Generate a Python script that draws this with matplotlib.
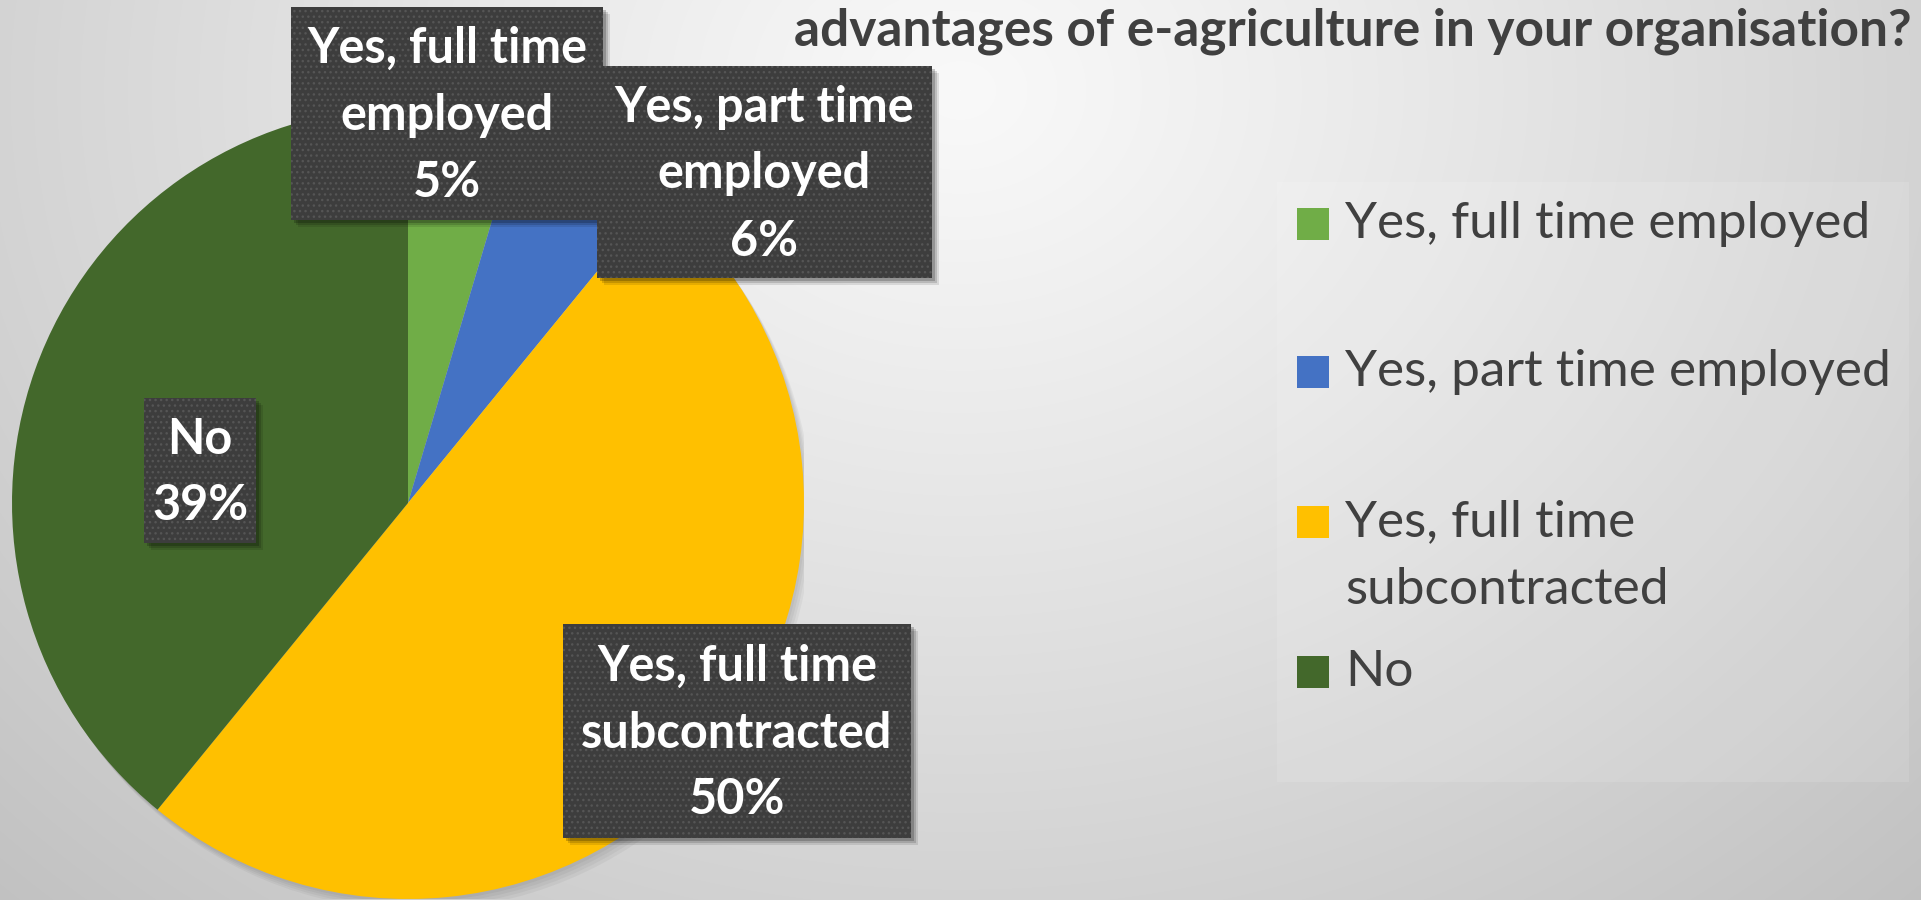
"""
Pie chart: staff for e-agriculture in the organisation
"""

import textwrap
import numpy as np
import matplotlib.pyplot as plt
from matplotlib.patches import Rectangle

# ── data ──────────────────────────────────────────────
categories = ["Yes, full time employed", "Yes, part time employed",
              "Yes, full time subcontracted", "No"]
shares = [4.6, 6.3, 50.0, 39.1]
colors = ["#70AD47", "#4472C4", "#FFC000", "#43682B"]
title = "advantages of e-agriculture in your organisation?"
legend_labels = ["Yes, full time employed", "Yes, part time employed",
                 "Yes, full time\nsubcontracted", "No"]

# ── layout (pixels, y from top) ──────────────────────
W, H = 1921, 900
PIE_CX, PIE_CY, PIE_R = 408, 503, 396
# data label boxes: (x0, y0, x1, y1)
LABEL_BOXES = [(291, 7, 603, 220), (597, 66, 932, 278),
               (563, 624, 911, 838), (144, 398, 256, 543)]
LABEL_ORDER = [0, 1, 3, 2]          # draw order (box 2 above box 1)
LINE_PITCH = 67
LEGEND_BOX = (1277, 182, 1909, 782)
LEGEND_ROWS = [224, 372, 522, 672]
LEGEND_LINE_PITCH = 68
TEXT_DARK = "#404040"
FONT = ["Lato", "DejaVu Sans"]

plt.rcParams["hatch.linewidth"] = 1.0

fig = plt.figure(figsize=(W / 100, H / 100), dpi=100)

# ── background gradient ──
bg = fig.add_axes([0, 0, 1, 1])
bg.set_zorder(0)
yy, xx = np.mgrid[0:H, 0:W]
d = np.sqrt(((xx - 960) / 950.0) ** 2 + ((yy - 90) / 780.0) ** 2)
v = (249 - 37 * d ** 1.1) / 255.0
v = np.clip(v, 0, 1)
bg.imshow(np.dstack([v, v, v]), extent=(0, W, H, 0), aspect="auto",
          interpolation="bilinear")
bg.set_xlim(0, W)
bg.set_ylim(H, 0)
bg.axis("off")

# ── pie ──
pie_ax = fig.add_axes([(PIE_CX - PIE_R) / W, (H - PIE_CY - PIE_R) / H,
                       2 * PIE_R / W, 2 * PIE_R / H])
pie_ax.set_zorder(1)
pie_ax.patch.set_alpha(0)
# soft shadow under the pie
for k in range(4):
    pie_ax.add_patch(plt.Circle((0.005 * (k + 1), -0.007 * (k + 1)), 1.0,
                                color="black", alpha=0.04, lw=0))
pie_ax.pie(shares, colors=colors, startangle=90, counterclock=False,
           radius=1, wedgeprops=dict(linewidth=0))
pie_ax.set_xlim(-1, 1)
pie_ax.set_ylim(-1, 1)
pie_ax.axis("off")

# ── overlay for labels, title, legend ──
ov = fig.add_axes([0, 0, 1, 1])
ov.set_zorder(2)
ov.patch.set_alpha(0)
ov.set_xlim(0, W)
ov.set_ylim(H, 0)
ov.axis("off")

total = sum(shares)
for i in LABEL_ORDER:
    x0, y0, x1, y1 = LABEL_BOXES[i]
    # shadow
    for off, a in [(7, 0.10), (5, 0.14), (3, 0.2)]:
        ov.add_patch(Rectangle((x0 + off, y0 + off), x1 - x0, y1 - y0,
                               facecolor="black", alpha=a, lw=0))
    ov.add_patch(Rectangle((x0, y0), x1 - x0, y1 - y0, facecolor="#3D3D3D",
                           edgecolor="#555555", hatch="...", lw=0))
    lines = textwrap.fill(categories[i], 14).split("\n")
    lines.append(f"{round(shares[i] / total * 100)}%")
    cx, cy = (x0 + x1) / 2, (y0 + y1) / 2
    n = len(lines)
    for j, line in enumerate(lines):
        ov.text(cx, cy + (j - (n - 1) / 2) * LINE_PITCH + 2, line,
                ha="center", va="center", color="white", fontsize=35,
                fontweight="bold", family=FONT)

# title (only the last line is visible)
ov.text(1912, 31, title, ha="right", va="center", color=TEXT_DARK,
        fontsize=37, fontweight="bold", family=FONT)

# ── legend ──
lx0, ly0, lx1, ly1 = LEGEND_BOX
ov.add_patch(Rectangle((lx0, ly0), lx1 - lx0, ly1 - ly0, facecolor="white",
                       alpha=0.12, lw=0))
for lab, col, ry in zip(legend_labels, colors, LEGEND_ROWS):
    ov.add_patch(Rectangle((1297, ry - 16), 32, 32, facecolor=col, lw=0))
    for j, line in enumerate(lab.split("\n")):
        ov.text(1345, ry + j * LEGEND_LINE_PITCH, line, ha="left",
                va="center", color=TEXT_DARK, fontsize=37, family=FONT)

plt.savefig("out.png", dpi=100)
plt.close()
